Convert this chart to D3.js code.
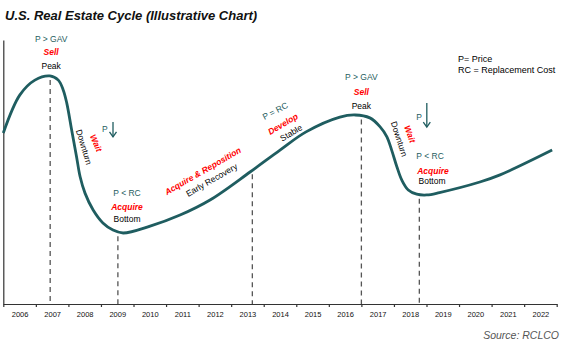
<!DOCTYPE html>
<html>
<head>
<meta charset="utf-8">
<script src="https://cdn.jsdelivr.net/npm/d3@7"></script>
<style>
  body { margin: 0; background: #fff; }
  text { font-family: "Liberation Sans", Arial, sans-serif; }
</style>
</head>
<body>
<script>
// curve of the cycle (year, price level 0-100)
const cycleYears = [2006.0, 2006.51, 2006.97, 2007.43, 2007.69, 2007.84, 2007.95, 2008.1, 2008.25, 2008.36,
  2008.51, 2008.76, 2009.06, 2009.37, 2009.68, 2010.51, 2011.43, 2012.35, 2013.58, 2014.5, 2015.3,
  2016.34, 2016.81, 2017.26, 2017.57, 2017.78, 2017.93, 2018.09, 2018.24, 2018.44, 2018.7, 2019.01,
  2019.4, 2020.64, 2021.26, 2022.86]
const cycleLevels = [64.8, 79.2, 84.8, 86.4, 84.8, 81.1, 76.1, 65.9, 55.8, 48.2,
  42.0, 35.6, 30.7, 28.0, 26.9, 29.5, 33.7, 39.4, 50.0, 58.3, 65.2,
  70.8, 71.6, 70.5, 67.2, 63.4, 58.3, 52.0, 47.0, 43.2, 41.6, 41.3,
  42.2, 46.2, 48.9, 58.3]

const yearLabels = d3.range(2006, 2023)
const phaseYears = [2007.44, 2009.52, 2013.65, 2017.0, 2018.78]

// annotations: text, position (year, level), kind, rotation
const labelText = ['P > GAV', 'Sell', 'Peak', 'Downturn', 'Wait', 'P', 'P < RC', 'Acquire', 'Bottom',
  'Acquire & Reposition', 'Early Recovery', 'P = RC', 'Develop', 'Stable',
  'P > GAV', 'Sell', 'Peak', 'Downturn', 'Wait', 'P', 'P < RC', 'Acquire', 'Bottom']
const labelYears = [2007.47, 2007.47, 2007.47, 2008.48, 2008.85, 2009.12, 2009.8, 2009.8, 2009.8,
  2012.13, 2012.4, 2014.35, 2014.59, 2014.84,
  2017.0, 2017.0, 2017.0, 2018.16, 2018.49, 2018.77, 2019.11, 2019.2, 2019.17]
const labelLevels = [100.4, 95.5, 90.0, 59.5, 61.0, 66.3, 42.0, 36.7, 32.2,
  50.4, 47.0, 73.1, 68.2, 64.8,
  85.9, 80.2, 75.0, 62.5, 64.4, 70.8, 56.1, 50.5, 46.7]
const labelKinds = ['price', 'action', 'phase', 'phase', 'action', 'price', 'price', 'action', 'phase',
  'action', 'phase', 'price', 'action', 'phase',
  'price', 'action', 'phase', 'phase', 'action', 'price', 'price', 'action', 'phase']
const labelAngles = [0, 0, 0, 73, 67, 0, 0, 0, 0, -30, -30, -28, -31, -31, 0, 0, 0, 72, 70, 0, 0, 0, 0]

// falling price arrows: year, from level, to level
const arrowYears = [2009.37, 2019.01]
const arrowTops = [68.9, 76.1]
const arrowBottoms = [63.3, 67.0]

const width = 567
const height = 352
const teal = '#1f5d60'

const svg = d3.select('body').append('svg')
  .attr('width', width)
  .attr('height', height)

const xScale = d3.scaleLinear().domain([2006, 2023]).range([3.3, 556.7])
const yScale = d3.scaleLinear().domain([0, 100]).range([304, 40])

svg.append('text')
  .attr('x', 5).attr('y', 19.5)
  .style('font-size', '13px').style('font-weight', 'bold').style('font-style', 'italic')
  .style('fill', '#111')
  .text('U.S. Real Estate Cycle (Illustrative Chart)')

// axes
const xAxis = svg.append('g')
  .attr('transform', `translate(0, ${yScale(0)})`)
  .call(d3.axisBottom(xScale).tickValues(d3.range(2006, 2024)).tickFormat('').tickSizeInner(3).tickSizeOuter(0))
xAxis.selectAll('path, line').style('stroke', '#333').style('stroke-width', 1.2)

const xLabels = svg.append('g')
  .attr('transform', `translate(0, ${yScale(0)})`)
  .call(d3.axisBottom(xScale).tickValues(yearLabels.map(d => d + 0.5)).tickFormat(d => Math.floor(d)).tickSize(0).tickPadding(8))
xLabels.select('.domain').remove()
xLabels.selectAll('text').style('font-size', '7.5px').style('font-family', '"Liberation Sans", Arial, sans-serif').style('fill', '#111')

const yAxis = svg.append('g')
  .attr('transform', `translate(${xScale(2006)}, 0)`)
  .call(d3.axisLeft(yScale).tickValues([]).tickSizeOuter(0))
yAxis.select('.domain').style('stroke', '#333').style('stroke-width', 1.2)

// cycle curve
const line = d3.line()
  .x((d, i) => xScale(cycleYears[i]))
  .y(d => yScale(d))
  .curve(d3.curveCatmullRom.alpha(0.5))

const path = svg.append('path')
  .datum(cycleLevels)
  .attr('d', line)
  .style('fill', 'none')
  .style('stroke', teal)
  .style('stroke-width', 2.8)

// find curve height at a given x
const node = path.node()
const total = node.getTotalLength()
function curveYAt (x) {
  let lo = 0
  let hi = total
  for (let k = 0; k < 40; k++) {
    const mid = (lo + hi) / 2
    if (node.getPointAtLength(mid).x < x) lo = mid
    else hi = mid
  }
  return node.getPointAtLength(lo).y
}

svg.selectAll('.phase-line')
  .data(phaseYears)
  .enter().append('line')
  .attr('class', 'phase-line')
  .attr('x1', d => xScale(d))
  .attr('x2', d => xScale(d))
  .attr('y1', d => curveYAt(xScale(d)) + 4)
  .attr('y2', yScale(0))
  .style('stroke', '#555')
  .style('stroke-width', 1.3)
  .style('stroke-dasharray', '5,4')

// annotations
const colors = { price: teal, action: '#ff0000', phase: '#000' }
svg.selectAll('.note')
  .data(labelText)
  .enter().append('text')
  .attr('class', 'note')
  .attr('transform', (d, i) => `translate(${xScale(labelYears[i])}, ${yScale(labelLevels[i])}) rotate(${labelAngles[i]})`)
  .attr('text-anchor', 'middle')
  .attr('dy', '0.35em')
  .style('font-size', '8.5px')
  .style('font-weight', (d, i) => labelKinds[i] === 'action' ? 'bold' : 'normal')
  .style('font-style', (d, i) => labelKinds[i] === 'action' ? 'italic' : 'normal')
  .style('fill', (d, i) => colors[labelKinds[i]])
  .text(d => d)

const arrows = svg.selectAll('.arrow')
  .data(arrowYears)
  .enter().append('g')
  .attr('class', 'arrow')
arrows.append('line')
  .attr('x1', d => xScale(d)).attr('x2', d => xScale(d))
  .attr('y1', (d, i) => yScale(arrowTops[i]))
  .attr('y2', (d, i) => yScale(arrowBottoms[i]))
  .style('stroke', teal).style('stroke-width', 1.3)
arrows.append('path')
  .attr('d', (d, i) => {
    const x = xScale(d)
    const y = yScale(arrowBottoms[i])
    return `M${x - 3.5},${y - 5} L${x},${y} L${x + 3.5},${y - 5}`
  })
  .style('fill', 'none').style('stroke', teal).style('stroke-width', 1.3)

// legend
const legend = svg.append('g').attr('transform', 'translate(458, 0)')
legend.append('text').attr('y', 61.5).style('font-size', '9px').style('fill', '#000').text('P= Price')
legend.append('text').attr('y', 72.5).style('font-size', '9px').style('fill', '#000').text('RC = Replacement Cost')

svg.append('text')
  .attr('x', 559).attr('y', 339)
  .attr('text-anchor', 'end')
  .style('font-size', '10.5px').style('font-style', 'italic').style('fill', '#555')
  .text('Source: RCLCO')
</script>
</body>
</html>
